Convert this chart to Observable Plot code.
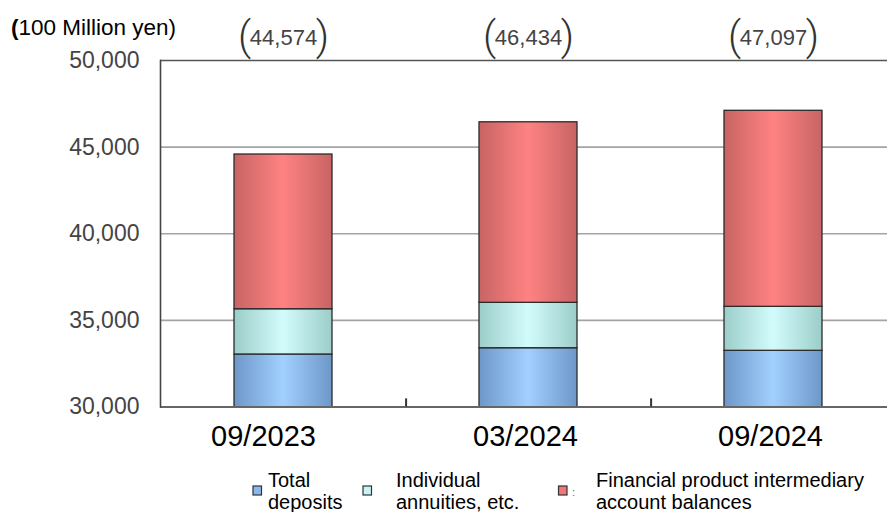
<!DOCTYPE html>
<html>
<head>
<meta charset="utf-8">
<script src="https://cdn.jsdelivr.net/npm/d3@7"></script>
<script src="https://cdn.jsdelivr.net/npm/@observablehq/plot@0.6"></script>
<style>
  html, body { margin: 0; padding: 0; background: white; overflow: hidden; }
  #chart { position: relative; width: 887px; height: 512px; overflow: hidden; }
</style>
</head>
<body>
<div id="chart"></div>
<script>
// ---- data ----
const categories = ["09/2023", "03/2024", "09/2024"];
const series = ["Total deposits", "Individual annuities, etc.", "Financial product intermediary account balances"];
const totalDeposits = [33030, 33393, 33243];
const individualAnnuities = [2613, 2620, 2539];
const intermediaryBalances = [8931, 10421, 11315];
const totals = [44574, 46434, 47097];
const yTicks = [30000, 35000, 40000, 45000, 50000];
const gridTicks = [35000, 40000, 45000];
const unitLabel = "(100 Million yen)";
const legendLines = [["Total", "deposits"], ["Individual", "annuities, etc."], ["Financial product intermediary", "account balances"]];
const legendColors = ["#8ab8ec", "#c6f4f2", "#f27676"];

// ---- build table ----
const seriesValues = [totalDeposits, individualAnnuities, intermediaryBalances];
const data = [];
categories.forEach((c, i) => {
  series.forEach((s, j) => data.push({category: c, series: s, value: seriesValues[j][i]}));
});
const totalData = categories.map((c, i) => ({category: c, total: totals[i]}));
const fmt = d3.format(",");
const font = "'Liberation Sans', Arial, sans-serif";

const svg = Plot.plot({
  width: 887,
  height: 512,
  marginLeft: 160,
  marginTop: 60,
  marginBottom: 105.5,
  marginRight: 0,
  style: {fontFamily: font, background: "white", overflow: "hidden"},
  x: {domain: categories, range: [160, 896], paddingInner: 0.6, paddingOuter: 0.3, align: 0.5, axis: null},
  y: {domain: [30000, 50000], axis: null},
  color: {domain: series, range: ["url(#gBlue)", "url(#gCyan)", "url(#gRed)"]},
  marks: [
    Plot.ruleY(gridTicks, {stroke: "#a4a4a4", strokeWidth: 1.6}),
    Plot.barY(data, Plot.stackY({x: "category", y: "value", fill: "series", stroke: "#2b2b2b", strokeWidth: 1.3, clip: true})),
    Plot.ruleY([30000], {stroke: "#666", strokeWidth: 2}),
    Plot.ruleY([50000], {stroke: "#555", strokeWidth: 1.6}),
    Plot.frame({anchor: "left", stroke: "#444", strokeWidth: 1.6}),
    Plot.ruleX(categories.slice(0, 2), {x: d => d, dx: 122.6, y1: 30000, y2: 30470, stroke: "#333", strokeWidth: 2}),
    Plot.axisY(yTicks, {tickSize: 0, tickPadding: 21, fontSize: 23, fill: "#444", tickFormat: fmt, label: null}),
    Plot.axisX(categories.slice(0, 1), {tickSize: 0, tickPadding: 18, fontSize: 29, fill: "#000", label: null, dx: -20}),
    Plot.axisX(categories.slice(1), {tickSize: 0, tickPadding: 18, fontSize: 29, fill: "#000", label: null, dx: -3}),
    Plot.text(totalData, {x: "category", frameAnchor: "top", dy: -31, text: d => fmt(d.total), fontSize: 22, fill: "#444"}),
    Plot.text(totalData, {x: "category", frameAnchor: "top", dy: -40, dx: -39, text: () => "(", fontSize: 41, fontWeight: 300, fontFamily: "Roboto", fill: "#333"}),
    Plot.text(totalData, {x: "category", frameAnchor: "top", dy: -40, dx: 39, text: () => ")", fontSize: 41, fontWeight: 300, fontFamily: "Roboto", fill: "#333"})
  ]
});

// gradients for glossy bars
const defs = d3.select(svg).insert("defs", ":first-child");
const grads = [
  ["gBlue", "#6d97c9", "#a2d0ff"],
  ["gCyan", "#9ccdc9", "#d2fcfb"],
  ["gRed", "#c86464", "#ff8282"]
];
grads.forEach(([id, edge, mid]) => {
  const lg = defs.append("linearGradient").attr("id", id).attr("x1", "0%").attr("x2", "100%").attr("y1", "0%").attr("y2", "0%");
  lg.append("stop").attr("offset", "0%").attr("stop-color", edge);
  lg.append("stop").attr("offset", "50%").attr("stop-color", mid);
  lg.append("stop").attr("offset", "100%").attr("stop-color", edge);
});

// unit label
const s = d3.select(svg);
const t = s.append("text").attr("x", 11).attr("y", 35).attr("text-anchor", "start")
  .attr("font-family", font).attr("font-size", 22.5).attr("fill", "#000");
t.append("tspan").attr("font-weight", "bold").text(unitLabel.slice(0, 1));
t.append("tspan").text(unitLabel.slice(1));

// legend
const lg = s.append("g").attr("font-family", font).attr("font-size", 20).attr("fill", "#000").attr("text-anchor", "start");
const legendPos = [{sx: 253, tx: 268}, {sx: 363, tx: 396}, {sx: 558.5, tx: 596}];
legendLines.forEach((lines, i) => {
  lg.append("rect").attr("x", legendPos[i].sx).attr("y", 486).attr("width", 8.5).attr("height", 9)
    .attr("fill", legendColors[i]).attr("stroke", "#333").attr("stroke-width", 1.2);
  lines.forEach((line, k) => {
    lg.append("text").attr("x", legendPos[i].tx).attr("y", 487 + k * 22).text(line);
  });
});
lg.append("text").attr("x", 572).attr("y", 496).attr("font-size", 11).attr("fill", "#666").text(":");

document.getElementById("chart").appendChild(svg);
</script>
</body>
</html>
